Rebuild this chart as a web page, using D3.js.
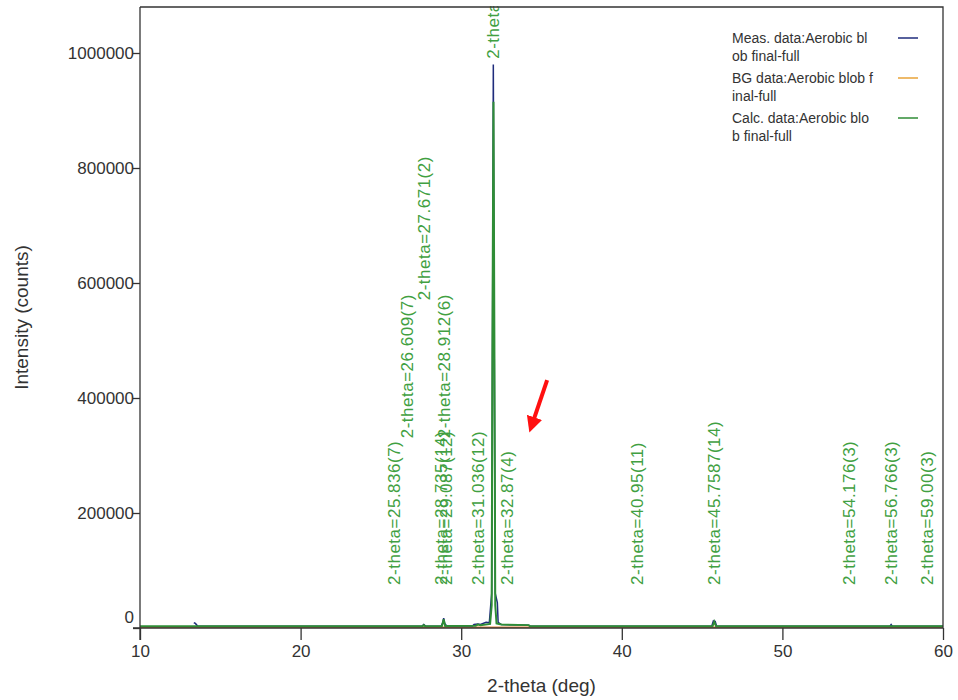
<!DOCTYPE html>
<html>
<head>
<meta charset="utf-8">
<script src="https://cdn.jsdelivr.net/npm/d3@7"></script>
<style>
    body { margin: 0; background: #fff; }
    svg { font-family: Arial, "Liberation Sans", sans-serif; }
</style>
</head>
<body>
<svg id="drawing_region"></svg>
<script>
// measured pattern
const measTheta = [13.35, 13.45, 13.6, 20, 27.55, 27.67, 27.8, 28.75, 28.85, 28.91, 28.97, 29.1,
    30.7, 30.8, 31.04, 31.2, 31.55, 31.75, 31.85, 31.9, 31.95, 32.0, 32.06, 32.12, 32.25, 32.3,
    32.5, 34.2, 34.3, 45.6, 45.7, 45.76, 45.82, 45.9, 56.7, 56.77, 56.84, 60];
const measCounts = [9000, 8000, 3000, 3000, 3000, 6000, 3000, 3500, 9000, 17000, 8000, 3500,
    3500, 6000, 7000, 6000, 10000, 9000, 44000, 60000, 470000, 980000, 470000, 60000, 44000, 10000,
    6000, 5000, 3000, 3000, 12000, 10000, 11000, 3000, 3000, 6000, 3000, 3000];

// background
const bgTheta = [10, 31, 34.2, 60];
const bgCounts = [1500, 1500, 1400, 1200];

// calculated pattern
const calcTheta = [10, 27.6, 27.67, 27.75, 28.8, 28.91, 29.0, 30.9, 31.04, 31.2, 31.8, 31.9,
    31.94, 32.01, 32.07, 32.12, 32.2, 32.5, 34.2, 34.3, 45.65, 45.76, 45.87, 60];
const calcCounts = [3000, 3000, 5000, 3000, 3500, 15000, 3500, 4000, 6000, 5000, 7000, 40000,
    470000, 915000, 470000, 40000, 8000, 6000, 5000, 3000, 3000, 11000, 3000, 3000];

// peak labels
const peakTheta = [25.836, 26.609, 27.671, 28.735, 28.912, 29.087, 31.036, 32.0, 32.87,
    40.95, 45.7587, 54.176, 56.766, 59.00];
const peakText = ['2-theta=25.836(7)', '2-theta=26.609(7)', '2-theta=27.671(2)', '2-theta=28.735(14)',
    '2-theta=28.912(6)', '2-theta=29.087(12)', '2-theta=31.036(12)', '2-theta=32.003(2)', '2-theta=32.87(4)',
    '2-theta=40.95(11)', '2-theta=45.7587(14)', '2-theta=54.176(3)', '2-theta=56.766(3)', '2-theta=59.00(3)'];
const peakLevel = [75000, 330000, 570000, 75000, 330000, 75000, 75000, 990000, 75000,
    75000, 75000, 75000, 75000, 75000];

const xTicks = [10, 20, 30, 40, 50, 60];
const yTicks = [0, 200000, 400000, 600000, 800000, 1000000];

const legendNames = [['Meas. data:Aerobic bl', 'ob final-full'],
    ['BG data:Aerobic blob f', 'inal-full'],
    ['Calc. data:Aerobic blo', 'b final-full']];
const legendColors = ['#1f2c7c', '#e9a338', '#2f8d36'];

// annotation arrow (data coords): tail, head
const arrowTheta = [35.35, 34.28];
const arrowCounts = [431000, 343000];

const config = {
    width: 958,
    height: 700,
    margin: {top: 7, right: 15, bottom: 72, left: 140},
};

const svg = d3.select('#drawing_region')
    .attr('width', config.width)
    .attr('height', config.height);

const innerW = config.width - config.margin.left - config.margin.right;
const innerH = config.height - config.margin.top - config.margin.bottom;

const chart = svg.append('g')
    .attr('transform', `translate(${config.margin.left}, ${config.margin.top})`);

const xscale = d3.scaleLinear().domain([10, 60]).range([0, innerW]);
const yscale = d3.scaleLinear().domain([0, 1080000]).range([innerH, 0]);

chart.append('defs').append('clipPath').attr('id', 'plotclip')
    .append('rect').attr('width', innerW).attr('height', innerH + 2).attr('y', -1);

const line = d3.line().x(d => xscale(d[0])).y(d => yscale(d[1]));
const zip = (a, b) => a.map((v, i) => [v, b[i]]);

const plot = chart.append('g').attr('clip-path', 'url(#plotclip)');

// peak labels
plot.selectAll('text.peak')
    .data(peakTheta.map((t, i) => ({t: t, text: peakText[i], lv: peakLevel[i]})))
    .enter()
    .append('text')
    .attr('class', 'peak')
    .attr('transform', d => `translate(${xscale(d.t)}, ${yscale(d.lv)}) rotate(-90)`)
    .attr('dy', '0.35em')
    .attr('font-size', '17px')
    .attr('letter-spacing', '0.5px')
    .attr('fill', '#41a041')
    .text(d => d.text);

plot.append('path').datum(zip(bgTheta, bgCounts))
    .attr('d', line).attr('fill', 'none')
    .attr('stroke', '#e9843a').attr('stroke-width', 1.5);

plot.append('path').datum(zip(measTheta, measCounts))
    .attr('d', line).attr('fill', 'none')
    .attr('stroke', legendColors[0]).attr('stroke-width', 1.5);

plot.append('path').datum(zip(calcTheta, calcCounts))
    .attr('d', line).attr('fill', 'none')
    .attr('stroke', legendColors[2]).attr('stroke-width', 2);

// axes
const xaxis = d3.axisBottom(xscale).tickValues(xTicks).tickSize(12).tickSizeOuter(0);
const yaxis = d3.axisLeft(yscale).tickValues(yTicks).tickSize(7).tickSizeOuter(0)
    .tickFormat(d3.format('d'));

const xg = chart.append('g')
    .attr('transform', `translate(0, ${innerH})`)
    .call(xaxis);
xg.select('.domain').attr('d', `M-7,0H${innerW}`);
xg.selectAll('text').attr('font-size', '17px').attr('fill', '#333').attr('dy', '0.85em');

const yg = chart.append('g').call(yaxis);
yg.select('.domain').attr('d', `M0,0V${innerH + 12}`);
yg.selectAll('text').attr('font-size', '17px').attr('fill', '#333').attr('x', -6);
yg.selectAll('.tick').filter(d => d === 0).select('text').attr('dy', '-0.3em');

chart.selectAll('.domain, .tick line').attr('stroke', '#333').attr('stroke-width', 1.3);

// frame top and right
chart.append('path')
    .attr('d', `M0,0H${innerW}V${innerH}`)
    .attr('fill', 'none').attr('stroke', '#333').attr('stroke-width', 1.3);

// titles
svg.append('text')
    .attr('x', config.margin.left + xscale(35))
    .attr('y', 692)
    .attr('font-size', '19px').attr('fill', '#333')
    .attr('text-anchor', 'middle')
    .text('2-theta (deg)');

svg.append('text')
    .attr('transform', `translate(28, ${config.margin.top + yscale(540000)}) rotate(-90)`)
    .attr('font-size', '19px').attr('fill', '#333')
    .attr('text-anchor', 'middle')
    .text('Intensity (counts)');

// legend
const legend = svg.append('g').attr('transform', 'translate(732, 38)');
legendNames.forEach((lines, i) => {
    const g = legend.append('g').attr('transform', `translate(0, ${i * 40})`);
    lines.forEach((s, j) => {
        g.append('text')
            .attr('y', j * 18).attr('dy', '0.35em')
            .attr('font-size', '14px').attr('fill', '#333')
            .text(s);
    });
    g.append('line')
        .attr('x1', 166).attr('x2', 186)
        .attr('stroke', legendColors[i]).attr('stroke-width', 1.5);
});

// red annotation arrow
svg.append('defs').append('marker')
    .attr('id', 'arrowhead')
    .attr('viewBox', '0 0 10 10')
    .attr('refX', 2).attr('refY', 5)
    .attr('markerWidth', 4).attr('markerHeight', 4)
    .attr('orient', 'auto')
    .append('path').attr('d', 'M0,0L10,5L0,10Z').attr('fill', '#ff1010');

chart.append('line')
    .attr('x1', xscale(arrowTheta[0])).attr('y1', yscale(arrowCounts[0]))
    .attr('x2', xscale(arrowTheta[1] + 0.22)).attr('y2', yscale(arrowCounts[1] + 18000))
    .attr('stroke', '#ff1010').attr('stroke-width', 4)
    .attr('marker-end', 'url(#arrowhead)');
</script>
</body>
</html>
